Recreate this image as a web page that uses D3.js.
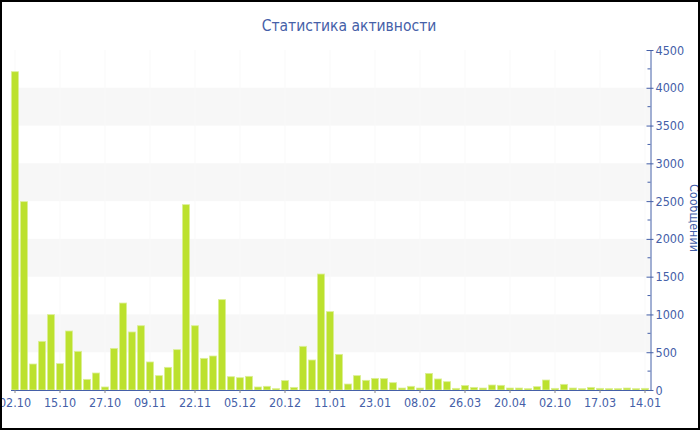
<!DOCTYPE html>
<html>
<head>
<meta charset="utf-8">
<script src="https://cdn.jsdelivr.net/npm/d3@7"></script>
<style>
	body { margin: 0; background: #fff; }
	text { font-family: 'DejaVu Sans Condensed', 'DejaVu Sans', sans-serif; }
</style>
</head>
<body>
<script>

var values = [4213, 2493, 344, 644, 997, 349, 781, 512, 141, 225,
	40, 551, 1151, 768, 851, 371, 190, 300, 534, 2453,
	851, 419, 450, 1196, 176, 163, 181, 40, 49, 18,
	124, 35, 578, 397, 1535, 1037, 472, 79, 190, 128,
	154, 150, 97, 26, 49, 26, 220, 146, 110, 22,
	60, 35, 26, 66, 62, 26, 26, 18, 44, 132,
	22, 75, 26, 18, 35, 22, 18, 18, 26, 18, 22];

var categories = values.map(function(d, i){ return i; });

var tickLabels = ['02.10', '15.10', '27.10', '09.11', '22.11', '05.12', '20.12', '11.01',
	'23.01', '08.02', '26.03', '20.04', '02.10', '17.03', '14.01'];

var yTicks = [0, 500, 1000, 1500, 2000, 2500, 3000, 3500, 4000, 4500];

var blue = '#4560a8';

var chart = d3.select('body').append('svg')
	.attr('width', 700)
	.attr('height', 430);

var x = d3.scaleBand()
	.domain(categories)
	.range([10.5, 649.5])
	.paddingInner(0.2)
	.paddingOuter(0.1);

var y = d3.scaleLinear()
	.domain([0, 4500])
	.range([390, 50]);

// grey bands
chart.selectAll('.band')
	.data([500, 1500, 2500, 3500])
	.enter().append('rect')
	.attr('x', 10.5)
	.attr('width', 640)
	.attr('y', function(d){ return y(d + 500); })
	.attr('height', function(d){ return y(d) - y(d + 500); })
	.attr('fill', '#f7f7f7');

// faint vertical lines
chart.selectAll('.vgrid')
	.data(categories.filter(function(d){ return d % 5 == 0; }))
	.enter().append('line')
	.attr('x1', function(d){ return x(d) + x.bandwidth() / 2; })
	.attr('x2', function(d){ return x(d) + x.bandwidth() / 2; })
	.attr('y1', 50)
	.attr('y2', 390)
	.attr('stroke', '#f9f9f9');

chart.selectAll('.bar')
	.data(values)
	.enter().append('rect')
	.attr('x', function(d, i){ return x(i); })
	.attr('y', function(d){ return y(d); })
	.attr('width', x.bandwidth())
	.attr('height', function(d){ return 390 - y(d); })
	.attr('fill', '#bce12e')
	.attr('stroke', '#dcef98')
	.attr('stroke-width', 0.8);

// x axis
var xAxis = d3.axisBottom(x)
	.tickValues(categories.filter(function(d){ return d % 5 == 0; }))
	.tickFormat(function(d){ return tickLabels[d / 5]; })
	.tickSize(3)
	.tickSizeOuter(0);

var gx = chart.append('g')
	.attr('transform', 'translate(0,390)')
	.call(xAxis);

gx.select('.domain').attr('stroke', blue);
gx.selectAll('.tick line').attr('stroke', '#888');
gx.selectAll('.tick text')
	.attr('fill', blue)
	.attr('font-size', 12.5)
	.attr('dy', '0.9em');

// y axis on the right
var yAxis = d3.axisRight(y)
	.tickValues(yTicks)
	.tickFormat(d3.format('d'))
	.tickSize(3)
	.tickPadding(2)
	.tickSizeOuter(0);

var gy = chart.append('g')
	.attr('transform', 'translate(650.5,0)')
	.call(yAxis);

gy.select('.domain').attr('stroke', blue);
gy.selectAll('.tick line')
	.attr('x1', -4)
	.attr('stroke', blue);
gy.selectAll('.tick text')
	.attr('fill', blue)
	.attr('font-size', 12.5);

gy.selectAll('.minor')
	.data(d3.range(250, 4500, 500))
	.enter().append('line')
	.attr('x1', -3)
	.attr('x2', 0)
	.attr('y1', function(d){ return y(d); })
	.attr('y2', function(d){ return y(d); })
	.attr('stroke', blue);

chart.append('text')
	.attr('x', 349)
	.attr('y', 31)
	.attr('text-anchor', 'middle')
	.attr('font-size', 15.5)
	.attr('fill', blue)
	.text('Статистика активности');

chart.append('text')
	.attr('transform', 'translate(690,218) rotate(90)')
	.attr('text-anchor', 'middle')
	.attr('font-size', 12.5)
	.attr('fill', blue)
	.text('Сообщений');

// border
chart.append('rect')
	.attr('x', 1)
	.attr('y', 1)
	.attr('width', 698)
	.attr('height', 428)
	.attr('fill', 'none')
	.attr('stroke', '#000')
	.attr('stroke-width', 2);

</script>
</body>
</html>
